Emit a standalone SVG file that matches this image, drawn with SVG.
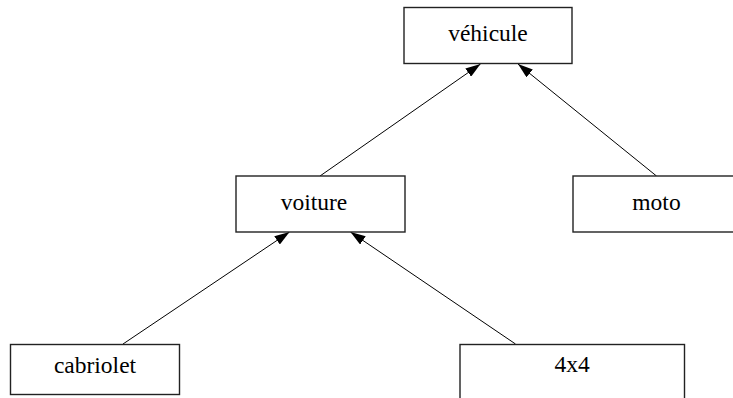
<svg xmlns="http://www.w3.org/2000/svg" width="733" height="398" viewBox="0 0 733 398">
<style>
.box{fill:#fff;stroke:#222;stroke-width:1.4}
.lbl{font-family:"Liberation Serif","Times New Roman",serif;font-size:23.5px;fill:#000;text-anchor:middle}
.edge{stroke:#000;stroke-width:1;fill:none;marker-end:url(#ah)}
</style>
<defs>
<marker id="ah" markerWidth="15" markerHeight="10" refX="15" refY="5" orient="auto" markerUnits="userSpaceOnUse">
<path d="M0,0 L15,5 L0,10 Z" fill="#000"/>
</marker>
</defs>
<rect width="733" height="398" fill="#fff"/>
<g id="connectors">
<line class="edge" x1="320" y1="176" x2="480.5" y2="64"/>
<line class="edge" x1="656.5" y1="176" x2="518" y2="64"/>
<line class="edge" x1="123" y1="344" x2="289.5" y2="232"/>
<line class="edge" x1="515.5" y1="344" x2="350.5" y2="232"/>
</g>
<g id="vehicule">
<rect class="box" x="404" y="7.5" width="168" height="56"/>
<text class="lbl" x="488" y="40.5">véhicule</text>
</g>
<g id="voiture">
<rect class="box" x="236" y="176" width="169" height="56"/>
<text class="lbl" x="314" y="210">voiture</text>
</g>
<g id="moto">
<rect class="box" x="573" y="176" width="168" height="56"/>
<text class="lbl" x="656.5" y="209.5">moto</text>
</g>
<g id="cabriolet">
<rect class="box" x="10.5" y="344.5" width="169" height="50"/>
<text class="lbl" x="95" y="373">cabriolet</text>
</g>
<g id="quatre">
<rect class="box" x="460" y="344.5" width="224.5" height="60"/>
<text class="lbl" x="572" y="371.5">4x4</text>
</g>
</svg>
